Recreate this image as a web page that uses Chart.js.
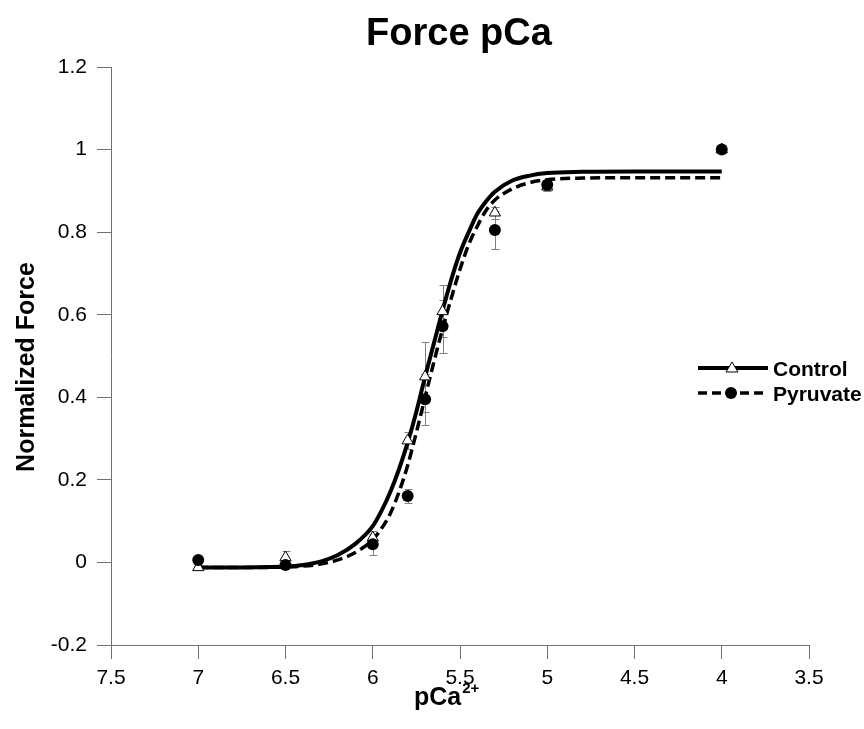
<!DOCTYPE html>
<html lang="en">
<head>
  <meta charset="UTF-8">
  <title>Force pCa</title>
  <script src="https://cdn.jsdelivr.net/npm/chart.js"></script>
  <style>
    body { margin: 0; background: #fff; }
    #wrap { width: 864px; height: 729px; }
  </style>
</head>
<body>
<div id="wrap"><canvas id="grafica"></canvas></div>
<script>
// measured points (pCa on x, normalized force on y)
const pCa = [7, 6.5, 6, 5.8, 5.7, 5.6, 5.3, 5, 4];
const control = [-0.012, 0.012, 0.06, 0.295, 0.45, 0.608, 0.847, 0.91, 1.0];
const controlErr = [0.004, 0.015, 0.016, 0.02, 0.085, 0.063, 0.015, 0.01, 0.004];
const pyruvate = [0.006, -0.006, 0.044, 0.161, 0.395, 0.572, 0.805, 0.915, 1.0];
const pyruvateErr = [0.006, 0.005, 0.025, 0.016, 0.061, 0.064, 0.047, 0.012, 0.004];

// fitted curves
const fitX = [7, 6.8, 6.6, 6.5, 6.4, 6.3, 6.2, 6.1, 6, 5.95, 5.9, 5.85, 5.8, 5.75, 5.7, 5.65,
  5.6, 5.55, 5.5, 5.45, 5.4, 5.35, 5.3, 5.2, 5.1, 5, 4.8, 4.5, 4];
const controlFit = [-0.012, -0.012, -0.011, -0.01, -0.006, 0.002, 0.018, 0.045, 0.088, 0.125, 0.17,
  0.225, 0.29, 0.365, 0.45, 0.53, 0.61, 0.685, 0.75, 0.8, 0.845, 0.875, 0.898, 0.925, 0.937, 0.943,
  0.946, 0.947, 0.947];
const pyruvateFit = [-0.012, -0.012, -0.012, -0.011, -0.009, -0.004, 0.006, 0.024, 0.055, 0.082, 0.118,
  0.17, 0.235, 0.315, 0.4, 0.485, 0.565, 0.64, 0.71, 0.77, 0.815, 0.853, 0.878, 0.905, 0.92, 0.927,
  0.931, 0.932, 0.932];

const xTicks = [7.5, 7, 6.5, 6, 5.5, 5, 4.5, 4, 3.5];
const yTicks = [-0.2, 0, 0.2, 0.4, 0.6, 0.8, 1, 1.2];

const FONT = "'Liberation Sans', Arial, sans-serif";
Chart.defaults.font.family = FONT;
Chart.defaults.color = '#000';

const pares = (xs, ys) => xs.map((x, i) => ({x, y: ys[i]}));

// error bars go under the lines and markers
const barrasError = {
  id: 'barrasError',
  beforeDatasetsDraw(chart) {
    const {ctx, scales: {x, y}} = chart;
    ctx.save();
    ctx.strokeStyle = '#808080';
    ctx.lineWidth = 1;
    [[control, controlErr], [pyruvate, pyruvateErr]].forEach(([vals, errs]) => {
      vals.forEach((v, i) => {
        const px = Math.round(x.getPixelForValue(pCa[i])) + 0.5;
        const top = Math.round(y.getPixelForValue(v + errs[i])) + 0.5;
        const bot = Math.round(y.getPixelForValue(v - errs[i])) + 0.5;
        ctx.beginPath();
        ctx.moveTo(px, top); ctx.lineTo(px, bot);
        ctx.moveTo(px - 4, top); ctx.lineTo(px + 4, top);
        ctx.moveTo(px - 4, bot); ctx.lineTo(px + 4, bot);
        ctx.stroke();
      });
    });
    ctx.restore();
  }
};

// titles and the legend on the right
const textos = {
  id: 'textos',
  afterDraw(chart) {
    const ctx = chart.ctx;
    ctx.save();
    ctx.fillStyle = '#000';

    ctx.font = 'bold 38px ' + FONT;
    ctx.textAlign = 'center';
    ctx.textBaseline = 'alphabetic';
    ctx.fillText('Force pCa', 459, 45);

    ctx.save();
    ctx.translate(27, 367);
    ctx.rotate(-Math.PI / 2);
    ctx.font = 'bold 25px ' + FONT;
    ctx.textBaseline = 'middle';
    ctx.fillText('Normalized Force', 0, 0);
    ctx.restore();

    ctx.textAlign = 'left';
    ctx.font = 'bold 25px ' + FONT;
    ctx.fillText('pCa', 414, 705);
    const w = ctx.measureText('pCa').width;
    ctx.font = 'bold 15px ' + FONT;
    ctx.fillText('2+', 414 + w + 1, 693);

    // legend
    ctx.strokeStyle = '#000';
    ctx.lineWidth = 4;
    ctx.beginPath(); ctx.moveTo(698, 368); ctx.lineTo(768, 368); ctx.stroke();
    ctx.lineWidth = 3.5;
    ctx.setLineDash([9, 5]);
    ctx.beginPath(); ctx.moveTo(698, 393); ctx.lineTo(768, 393); ctx.stroke();
    ctx.setLineDash([]);

    ctx.lineWidth = 1;
    ctx.fillStyle = '#fff';
    ctx.beginPath();
    ctx.moveTo(732, 362); ctx.lineTo(738, 372); ctx.lineTo(726, 372); ctx.closePath();
    ctx.fill(); ctx.stroke();
    ctx.fillStyle = '#000';
    ctx.beginPath(); ctx.arc(731, 393, 6, 0, Math.PI * 2); ctx.fill();

    ctx.font = 'bold 21px ' + FONT;
    ctx.fillText('Control', 773, 376);
    ctx.fillText('Pyruvate', 773, 401);
    ctx.restore();
  }
};

new Chart(document.getElementById('grafica'), {
  type: 'scatter',
  data: {
    datasets: [
      { label: 'Pyruvate', data: pares(pCa, pyruvate), pointStyle: 'circle', pointRadius: 6,
        pointHoverRadius: 6, backgroundColor: '#000', borderColor: '#000', borderWidth: 0 },
      { label: 'Control', data: pares(pCa, control), pointStyle: 'triangle', pointRadius: 6.5,
        pointHoverRadius: 6.5, backgroundColor: '#fff', borderColor: '#000', borderWidth: 1 },
      { label: 'Control fit', data: pares(fitX, controlFit), showLine: true, pointRadius: 0,
        borderColor: '#000', borderWidth: 4, cubicInterpolationMode: 'monotone' },
      { label: 'Pyruvate fit', data: pares(fitX, pyruvateFit), showLine: true, pointRadius: 0,
        borderColor: '#000', borderWidth: 3.5, borderDash: [10, 5], cubicInterpolationMode: 'monotone' }
    ]
  },
  options: {
    responsive: true,
    maintainAspectRatio: false,
    animation: false,
    layout: { padding: { left: 0, right: 55, top: 67, bottom: 0 } },
    plugins: { legend: { display: false }, tooltip: { enabled: false } },
    scales: {
      x: {
        type: 'linear', reverse: true, min: 3.5, max: 7.5,
        afterBuildTicks: s => { s.ticks = xTicks.map(v => ({value: v})); },
        afterFit: s => { s.height = 84; },
        grid: { drawOnChartArea: false, drawTicks: true, tickLength: 14, color: '#707070' },
        border: { display: true, color: '#707070', width: 1 },
        ticks: { font: { size: 21 }, padding: 7, maxRotation: 0, callback: v => String(v) }
      },
      y: {
        type: 'linear', min: -0.2, max: 1.2,
        afterBuildTicks: s => { s.ticks = yTicks.map(v => ({value: v})); },
        afterFit: s => { s.width = 111; },
        grid: { drawOnChartArea: false, drawTicks: true, tickLength: 14, color: '#707070' },
        border: { display: true, color: '#707070', width: 1 },
        ticks: { font: { size: 21 }, padding: 10, callback: v => String(v) }
      }
    }
  },
  plugins: [barrasError, textos]
});
</script>
</body>
</html>
